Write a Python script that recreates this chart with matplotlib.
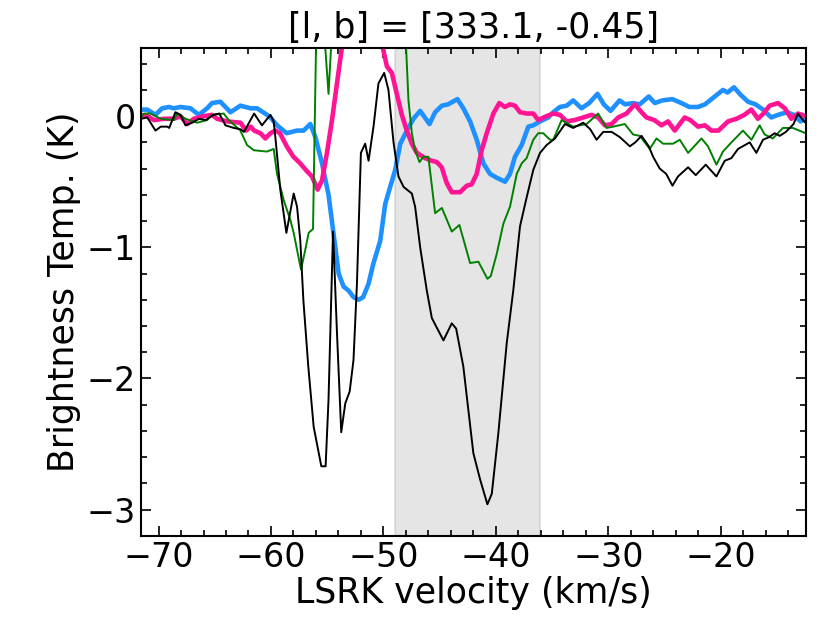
import matplotlib
matplotlib.use('Agg')
import matplotlib.pyplot as plt
from matplotlib.ticker import MultipleLocator

# spectra: velocity (km/s) and brightness temperature (K)
black_v = [-71.55, -71.0, -70.27, -69.8, -69.2, -69.05, -68.5, -68.05, -67.6, -67.0,
           -66.4, -65.8, -65.1, -64.6, -64.05, -63.3, -62.7, -62.4, -61.5, -60.8,
           -60.05, -59.76, -59.61, -59.17, -58.63, -57.98, -57.68, -57.39, -57.12, -56.68,
           -56.2, -55.52, -55.14, -54.88, -54.48, -54.13, -53.75, -53.39, -53.0, -52.66,
           -52.35, -52.0, -51.62, -51.32, -50.88, -50.44, -49.93, -49.55, -49.1, -48.66,
           -48.2, -47.47, -47.18, -46.73, -46.14, -45.69, -44.66, -43.92, -43.53, -42.89,
           -42.0, -41.4, -40.75, -40.36, -39.78, -39.03, -38.45, -37.85, -37.26, -36.67,
           -36.07, -35.48, -34.74, -33.85, -33.12, -32.23, -31.6, -31.04, -30.45, -29.7,
           -28.97, -28.08, -27.6, -27.04, -26.4, -26.01, -25.42, -24.85, -24.29, -23.8,
           -22.9, -22.22, -21.33, -20.38, -19.64, -19.05, -18.46, -17.42, -16.83, -16.24,
           -15.7, -15.2, -14.75, -14.2, -13.52, -13.13, -12.69, -12.45]
black_T = [-0.02, -0.01, -0.11, -0.08, -0.08, -0.09, 0.03, 0.01, -0.07, -0.05,
           -0.02, -0.03, 0.01, 0.02, -0.07, -0.09, -0.10, -0.12, 0.02, -0.07,
           0.01, -0.04, -0.16, -0.56, -0.89, -0.59, -0.69, -0.95, -1.40, -1.91,
           -2.37, -2.67, -2.67, -2.16, -0.88, -1.65, -2.41, -2.19, -2.10, -1.86,
           -1.27, -0.28, -0.21, -0.34, -0.08, 0.25, 0.33, 0.20, -0.20, -0.46,
           -0.54, -0.59, -0.69, -1.00, -1.33, -1.54, -1.71, -1.58, -1.62, -1.91,
           -2.57, -2.77, -2.96, -2.88, -2.42, -1.73, -1.33, -0.84, -0.62, -0.41,
           -0.28, -0.22, -0.17, -0.06, -0.09, -0.05, -0.10, -0.18, -0.12, -0.12,
           -0.16, -0.23, -0.20, -0.15, -0.23, -0.31, -0.40, -0.44, -0.53, -0.46,
           -0.39, -0.45, -0.37, -0.46, -0.34, -0.32, -0.25, -0.20, -0.28, -0.18,
           -0.16, -0.13, -0.15, -0.12, -0.06, 0.02, -0.03, -0.05]

green_v = [-71.6, -71.3, -70.7, -69.8, -68.64, -68.34, -67.6, -66.57, -65.68, -65.24,
           -64.2, -63.75, -62.72, -62.13, -61.53, -60.35, -59.76, -59.46, -58.87, -58.28,
           -57.98, -57.33, -56.95, -56.65, -56.26, -55.75, -55.3, -54.88, -54.45, -53.0,
           -51.0, -49.5, -48.3, -47.77, -47.47, -47.18, -46.79, -46.44, -46.0, -45.4,
           -44.8, -43.92, -43.24, -42.29, -41.55, -40.75, -40.45, -39.92, -39.33, -38.74,
           -38.14, -37.7, -37.26, -36.67, -36.23, -35.78, -35.19, -34.89, -34.15, -33.12,
           -31.93, -30.9, -30.15, -29.56, -28.53, -27.79, -27.2, -26.31, -25.71, -25.12,
           -24.24, -23.64, -22.9, -21.71, -21.13, -20.38, -19.8, -19.05, -18.02, -17.27,
           -16.54, -16.09, -15.36, -14.47, -13.58, -12.45]
green_T = [-0.01, 0.02, 0.02, -0.02, -0.03, 0.02, -0.02, -0.05, -0.03, 0.01,
           0.02, -0.03, -0.11, -0.22, -0.26, -0.27, -0.25, -0.44, -0.64, -0.79,
           -0.89, -1.17, -1.02, -0.89, -0.86, 1.8, 0.68, 0.17, 0.85, 2.0,
           2.5, 2.0, 1.13, 0.12, -0.13, -0.26, -0.35, -0.31, -0.31, -0.74,
           -0.70, -0.88, -0.83, -1.12, -1.11, -1.24, -1.22, -1.05, -0.82, -0.69,
           -0.44, -0.36, -0.32, -0.18, -0.13, -0.13, -0.18, -0.18, -0.03, -0.08,
           -0.06, 0.02, -0.09, -0.08, -0.06, -0.14, -0.15, -0.25, -0.17, -0.21,
           -0.21, -0.18, -0.28, -0.17, -0.23, -0.37, -0.27, -0.20, -0.11, -0.18,
           -0.07, -0.14, -0.17, -0.09, -0.09, -0.13]

pink_v = [-71.6, -71.0, -70.4, -69.5, -68.64, -68.05, -67.46, -66.86, -65.98, -65.24,
          -64.79, -63.9, -62.72, -62.2, -61.8, -61.5, -60.94, -60.5, -60.05, -59.6,
          -59.2, -58.6, -58.0, -57.4, -56.8, -56.35, -55.85, -55.46, -55.02, -54.57,
          -54.13, -53.25, -52.0, -51.0, -50.3, -49.69, -49.25, -48.81, -48.36, -47.92,
          -47.47, -47.03, -46.29, -45.7, -45.25, -44.81, -44.37, -43.92, -43.18, -42.58,
          -42.15, -41.7, -41.26, -40.81, -40.22, -39.69, -39.19, -38.74, -38.3, -37.85,
          -37.26, -36.67, -36.23, -35.5, -34.89, -34.3, -33.7, -33.0, -32.23, -31.48,
          -30.9, -30.3, -29.7, -29.12, -28.38, -27.64, -27.04, -26.6, -25.9, -25.27,
          -24.68, -24.09, -23.2, -22.7, -22.02, -21.4, -20.83, -20.2, -19.35, -18.6,
          -17.9, -17.27, -16.69, -16.2, -15.65, -14.91, -14.3, -13.72, -13.13, -12.45]
pink_T = [0.01, 0.0, -0.03, -0.02, -0.02, 0.0, -0.06, -0.02, 0.0, 0.01,
          -0.02, -0.04, -0.05, -0.11, -0.08, -0.11, -0.13, -0.17, -0.13, -0.11,
          -0.13, -0.23, -0.31, -0.36, -0.42, -0.46, -0.56, -0.49, -0.28, -0.03,
          0.25, 0.8, 1.5, 1.0, 0.62, 0.38, 0.33, 0.17, 0.01, -0.11,
          -0.21, -0.28, -0.32, -0.34, -0.35, -0.39, -0.51, -0.58, -0.58, -0.53,
          -0.52, -0.44, -0.26, -0.13, 0.02, 0.10, 0.07, 0.09, 0.08, 0.03,
          0.02, 0.02, -0.03, 0.0, 0.02, 0.01, -0.04, -0.03, -0.01, 0.01,
          -0.01, -0.07, -0.06, -0.01, 0.02, 0.09, 0.03, -0.01, -0.03, -0.07,
          -0.04, -0.11, -0.01, -0.03, -0.08, -0.07, -0.11, -0.11, -0.04, -0.02,
          0.01, 0.05, -0.02, 0.02, 0.08, 0.10, 0.06, -0.02, 0.02, 0.0]

blue_v = [-71.6, -71.0, -70.27, -69.68, -69.08, -68.64, -68.05, -67.16, -66.42, -65.68,
          -65.24, -64.5, -63.6, -62.72, -61.83, -61.24, -60.35, -60.05, -59.46, -58.6,
          -57.7, -57.1, -56.5, -56.05, -55.46, -54.88, -54.43, -53.98, -53.54, -53.1,
          -52.66, -52.2, -51.8, -51.33, -50.88, -50.28, -49.84, -49.4, -48.95, -48.5,
          -47.91, -47.33, -46.73, -45.9, -45.4, -44.8, -44.25, -43.42, -42.89, -42.29,
          -41.7, -41.11, -40.52, -39.92, -39.18, -38.74, -38.3, -37.7, -37.11, -36.67,
          -36.07, -35.34, -34.89, -34.3, -33.7, -33.12, -32.38, -31.7, -30.96, -30.4,
          -29.8, -29.0, -28.5, -27.8, -27.2, -26.4, -25.86, -25.2, -24.3, -23.5,
          -22.8, -22.02, -21.4, -20.38, -19.8, -19.4, -18.82, -18.2, -17.57, -16.9,
          -16.24, -15.5, -14.9, -14.1, -13.5, -12.9, -12.45]
blue_T = [0.05, 0.05, 0.01, 0.06, 0.07, 0.06, 0.07, 0.06, 0.01, 0.06,
          0.10, 0.11, 0.03, 0.08, 0.06, 0.06, 0.01, -0.01, -0.07, -0.13,
          -0.11, -0.11, -0.06, -0.16, -0.36, -0.60, -0.90, -1.20, -1.30, -1.33,
          -1.38, -1.40, -1.38, -1.28, -1.12, -0.95, -0.67, -0.54, -0.41, -0.21,
          -0.11, -0.02, 0.04, -0.06, 0.03, 0.08, 0.09, 0.13, 0.06, -0.04,
          -0.18, -0.36, -0.44, -0.47, -0.50, -0.44, -0.31, -0.22, -0.08, -0.07,
          -0.04, -0.01, 0.03, 0.07, 0.08, 0.12, 0.06, 0.10, 0.17, 0.09,
          0.04, 0.12, 0.09, 0.10, 0.09, 0.15, 0.10, 0.12, 0.13, 0.10,
          0.07, 0.07, 0.09, 0.16, 0.20, 0.18, 0.22, 0.16, 0.11, 0.09,
          0.05, -0.01, 0.01, 0.03, 0.01, -0.04, -0.02]

# velocity window that is shaded
shade_lo, shade_hi = -49.0, -36.1

fig = plt.figure(figsize=(8.3, 6.23), dpi=100)
ax = fig.add_axes([0.170, 0.140, 0.801, 0.783])

ax.axvspan(shade_lo, shade_hi, facecolor='0.55', edgecolor='0.55', alpha=0.22, lw=1.5)

ax.plot(blue_v, blue_T, color='dodgerblue', lw=3.3)
ax.plot(pink_v, pink_T, color='deeppink', lw=3.3)
ax.plot(green_v, green_T, color='green', lw=1.4)
ax.plot(black_v, black_T, color='black', lw=1.4)

ax.set_xlim(-71.55, -12.42)
ax.set_ylim(-3.2, 0.52)

ax.xaxis.set_major_locator(MultipleLocator(10))
ax.xaxis.set_minor_locator(MultipleLocator(2))
ax.yaxis.set_major_locator(MultipleLocator(1))
ax.yaxis.set_minor_locator(MultipleLocator(0.2))
ax.tick_params(which='both', direction='in', top=True, right=True, labelsize=24, width=1.2)
ax.tick_params(which='major', length=7.5)
ax.tick_params(which='minor', length=4.5)
for s in ax.spines.values():
    s.set_linewidth(1.5)

ax.set_xlabel('LSRK velocity (km/s)', fontsize=25, labelpad=2)
ax.set_ylabel('Brightness Temp. (K)', fontsize=25, labelpad=4)
ax.set_title('[l, b] = [333.1, -0.45]', fontsize=25, pad=7)

fig.savefig('out.png', dpi=100)
